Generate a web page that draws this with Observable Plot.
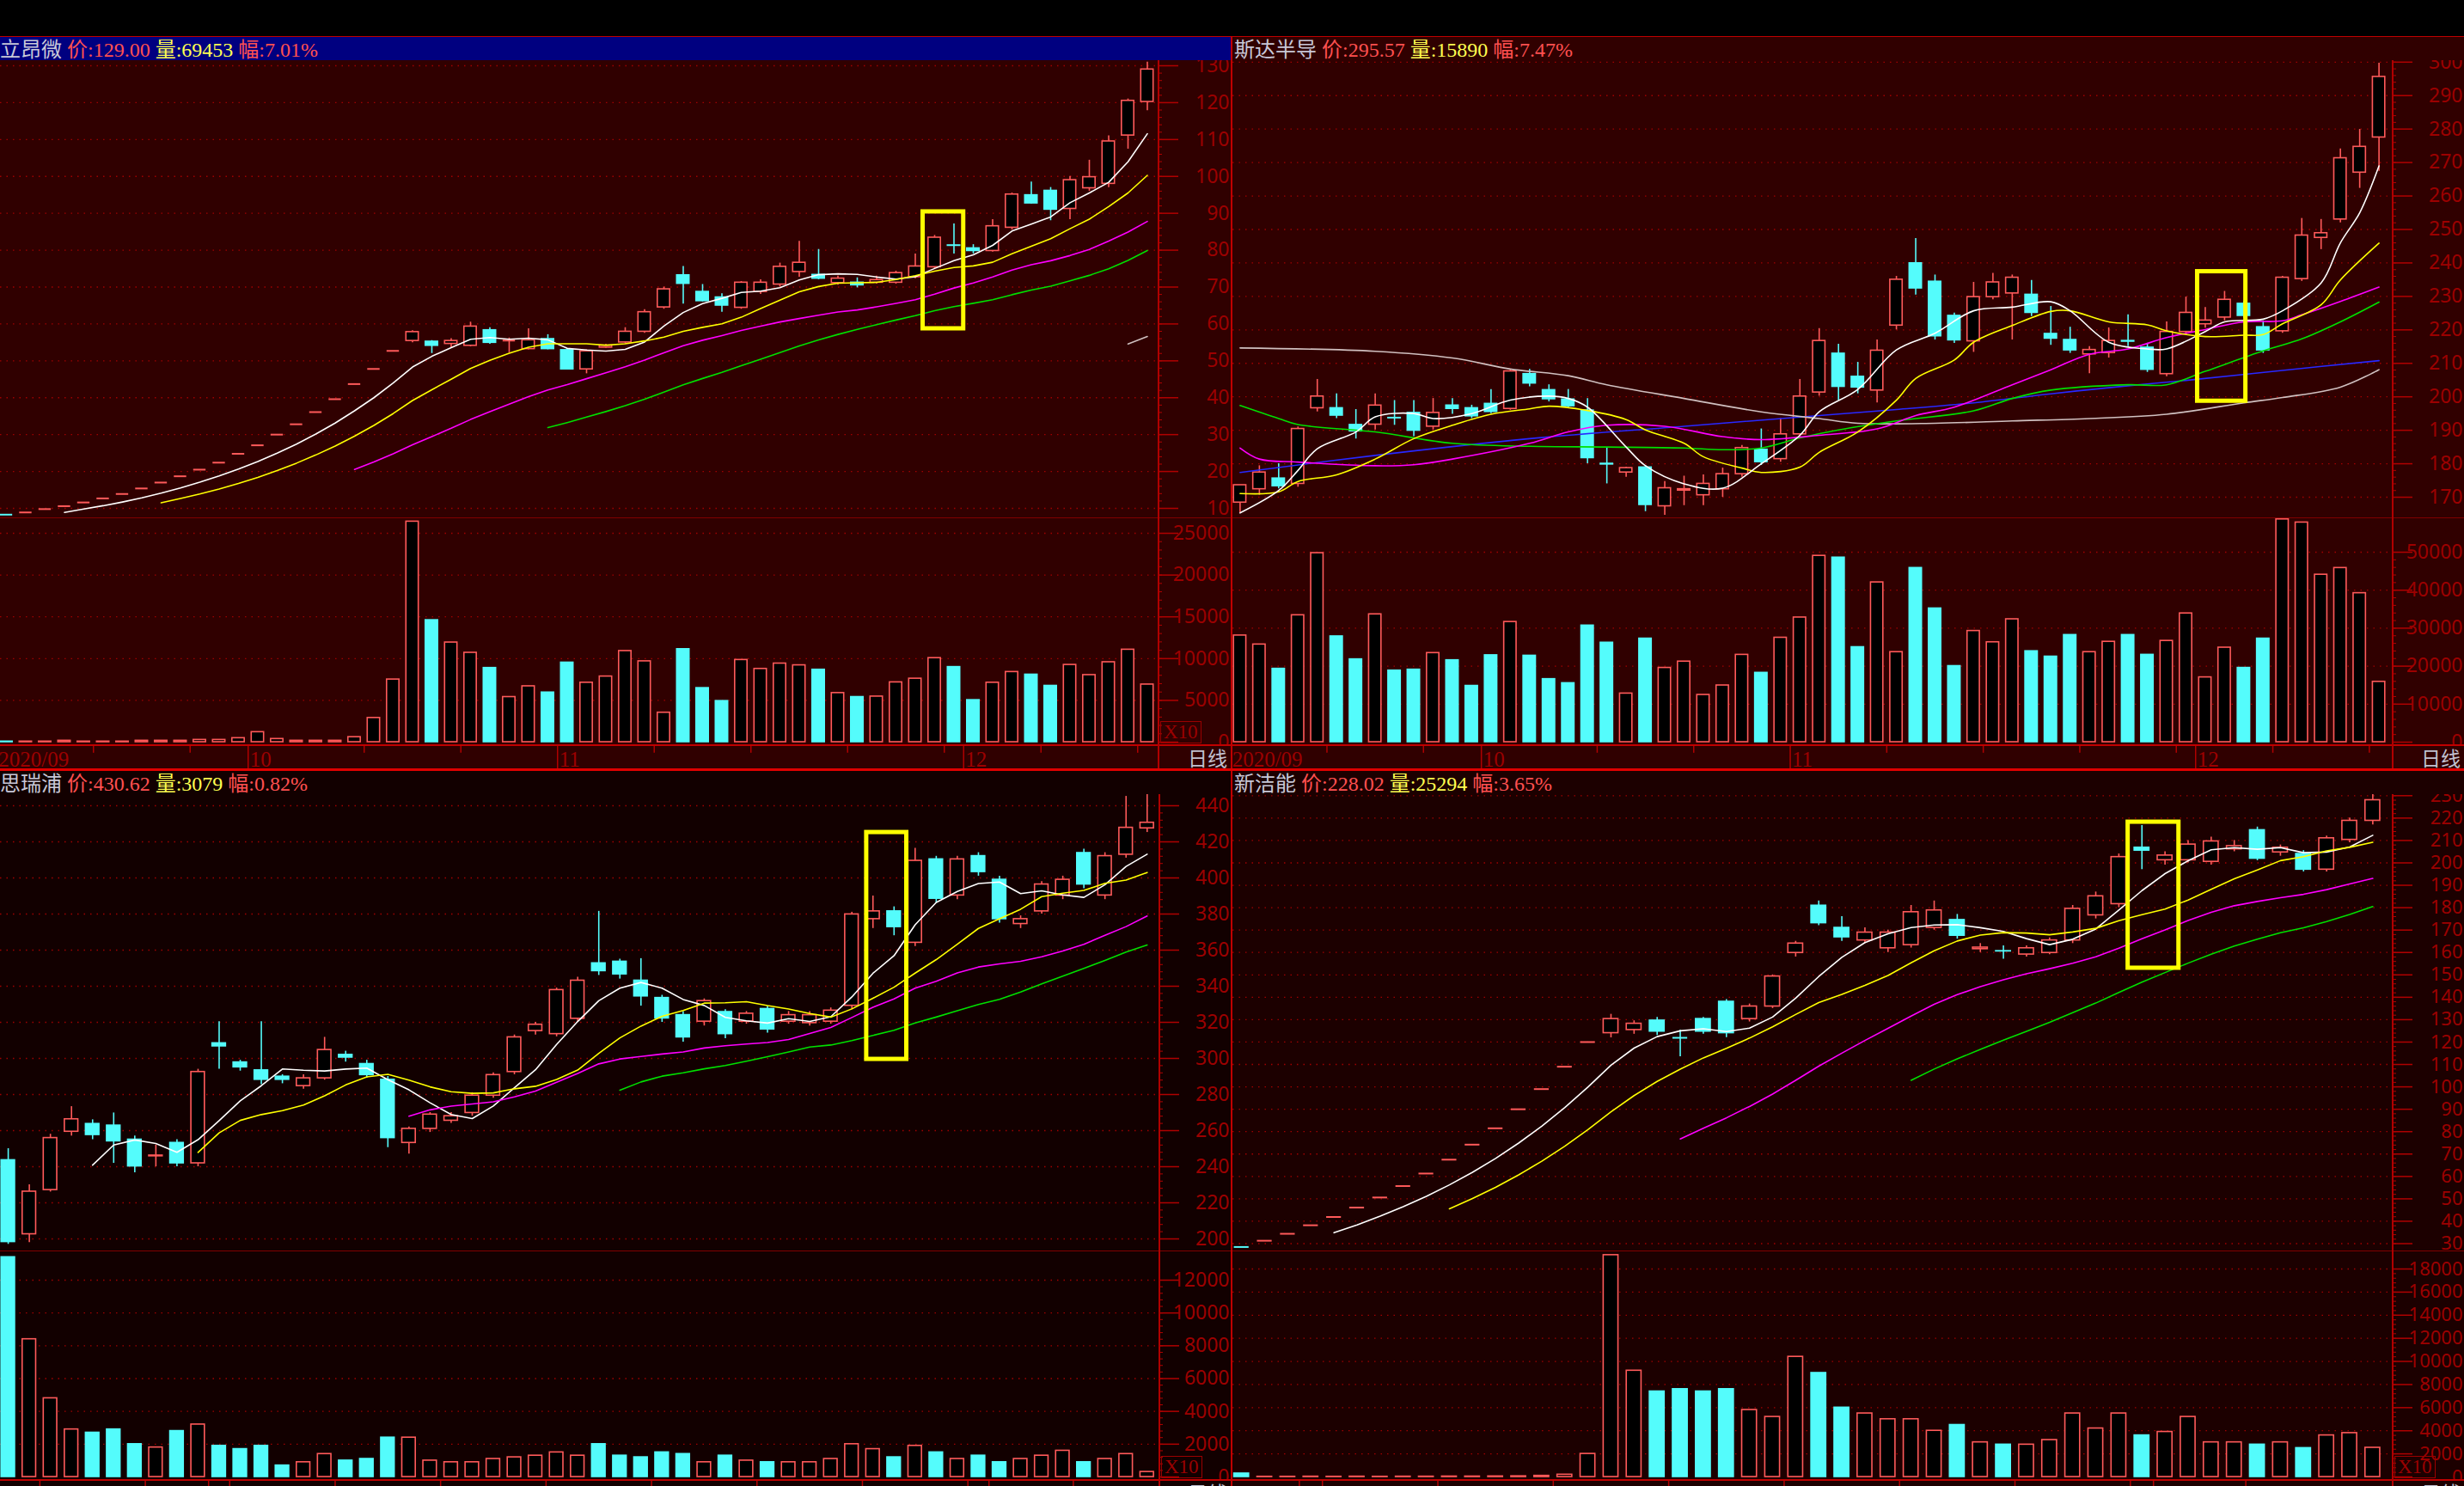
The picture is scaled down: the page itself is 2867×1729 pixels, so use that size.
<!DOCTYPE html>
<html lang="zh-CN">
<head>
<meta charset="utf-8">
<title>K线</title>
<script src="https://cdn.jsdelivr.net/npm/d3@7"></script>
<script src="https://cdn.jsdelivr.net/npm/@observablehq/plot@0.6"></script>
<style>
  html, body { margin: 0; padding: 0; background: #000; }
  #root { position: relative; width: 2867px; height: 1729px; overflow: hidden; background: #000; }
  .panel { position: absolute; overflow: hidden; }
  .title { height: 28px; line-height: 28px; font-size: 24px; font-family: "Liberation Serif", "Noto Sans CJK SC", serif; white-space: nowrap; box-sizing: border-box; }
  .nm { color: #c8c8d8; font-family: "Noto Sans CJK SC", sans-serif; }
  .rd { color: #ff5050; }
  .yl { color: #ffff50; }
  .x10 { border: 1px solid #9a0000; color: #9a0000; font: 23px "Liberation Serif", serif; line-height: 24px; padding: 0 3px; }
  .rixian { color: #c0c0d0; font: 23px "Noto Sans CJK SC", sans-serif; line-height: 26px; }
  svg { display: block; }
</style>
</head>
<body>
<div id="root"></div>
<script>
// ---------------- DATA ----------------
// 立昂微 (top-left)
const tlTitle = ["立昂微", "129.00", "69453", "7.01%"];
const tlPrevClose = [6.9];   // the listing day just left of the window (only felt through the moving averages)
const tlOpen  = [8.3, 8.9, 9.8, 10.6, 11.6, 12.7, 13.9, 15.4, 17.0, 18.7, 20.5, 22.4, 24.8, 27.1, 30.0, 32.8, 36.1, 39.6, 43.7, 47.8, 52.7,
  55.4, 55.2, 54.6, 54.1, 58.3, 55.5, 53.2, 55.9, 52.9, 47.7,
  53.6, 55.0, 57.9, 64.5, 73.2, 68.7, 67.2, 64.4, 68.7, 70.7,
  74.1, 73.3, 71.1, 71.2, 71.2, 71.2, 72.7, 75.4, 81.3, 80.5,
  79.8, 86.1, 94.9, 96.1, 91.2, 96.8, 98.0, 111.1, 120.2];
const tlHigh  = [8.3, 8.9, 9.8, 10.6, 11.6, 12.7, 13.9, 15.4, 17.0, 18.7, 20.5, 22.4, 24.8, 27.1, 30.0, 32.8, 36.1, 39.6, 43.7, 47.8, 52.7,
  58.2, 55.5, 56.0, 60.5, 59.0, 56.2, 58.7, 57.1, 53.3, 53.0,
  54.5, 59.0, 63.9, 70.0, 75.6, 70.7, 68.2, 71.5, 72.0, 76.5,
  82.4, 80.2, 73.0, 72.5, 73.0, 74.3, 79.0, 84.0, 87.1, 81.5,
  88.3, 95.5, 98.5, 97.0, 100.0, 104.4, 111.0, 121.0, 131.0];
const tlLow   = [8.3, 8.9, 9.8, 10.6, 11.6, 12.7, 13.9, 15.4, 17.0, 18.7, 20.5, 22.4, 24.8, 27.1, 30.0, 32.8, 36.1, 39.6, 43.7, 47.8, 52.7,
  54.9, 52.0, 53.5, 53.8, 54.5, 52.2, 53.0, 53.0, 47.5, 46.5,
  53.4, 54.6, 57.5, 64.0, 65.4, 66.0, 63.2, 64.0, 68.0, 70.0,
  72.7, 72.0, 70.5, 69.8, 70.8, 70.8, 72.3, 75.0, 79.0, 79.0,
  79.5, 85.5, 92.5, 88.0, 88.3, 96.0, 97.0, 107.4, 117.8];
const tlClose = [8.3, 8.9, 9.8, 10.6, 11.6, 12.7, 13.9, 15.4, 17.0, 18.7, 20.5, 22.4, 24.8, 27.1, 30.0, 32.8, 36.1, 39.6, 43.7, 47.8, 52.7,
  57.8, 54.1, 55.4, 59.3, 54.9, 55.5, 55.6, 53.2, 47.7, 52.6,
  54.1, 57.9, 63.2, 69.4, 70.9, 66.2, 65.0, 71.2, 71.2, 75.5,
  76.6, 72.3, 72.3, 70.5, 71.9, 73.8, 75.6, 83.4, 81.2, 79.8,
  86.5, 95.1, 92.7, 91.0, 99.0, 99.8, 109.5, 120.5, 129.0];
const tlVol   = [70, 70, 70, 170, 70, 70, 70, 170, 170, 170, 270, 270, 480, 1200, 380, 170, 170, 170, 600, 2900, 7500,
  26400, 14600, 11930, 10700, 8880, 5400, 6690, 5940, 9520, 7120,
  7860, 10910, 9680, 3530, 11130, 6470, 4920, 9840, 8770, 9410,
  9200, 8670, 5880, 5400, 5460, 7160, 7600, 10060, 8990, 5030,
  7120, 8400, 8080, 6740, 9250, 8030, 9570, 11070, 6900];
const tlPriceTicks = [10, 20, 30, 40, 50, 60, 70, 80, 90, 100, 110, 120, 130];
const tlVolTicks = [0, 5000, 10000, 15000, 20000, 25000];
const tlMark = [47.4, 49.5, 58.7, 90.4];

// 斯达半导 (top-right)
const trTitle = ["斯达半导", "295.57", "15890", "7.47%"];
const trOpen  = [168.4, 172.4, 175.6, 174.0, 196.6, 196.6, 191.6, 191.7, 193.7, 195.2,
  191.1, 197.4, 196.6, 197.9, 196.4, 206.8, 202.0, 199.2, 195.9, 180.0,
  177.4, 178.9, 167.3, 172.0, 170.6, 172.4, 176.9, 184.2, 181.4, 188.8,
  201.3, 212.9, 206.0, 201.9, 221.3, 239.9, 234.4, 224.2, 216.6, 229.8,
  230.9, 230.5, 218.8, 217.0, 212.7, 213.1, 216.7, 214.7, 206.8, 219.4,
  221.7, 223.7, 227.8, 220.8, 219.6, 235.2, 247.5, 253.0, 267.0, 277.5];
const trHigh  = [173.6, 179.4, 180.0, 191.0, 205.2, 200.9, 196.2, 200.9, 198.9, 198.9,
  199.5, 199.5, 197.5, 202.2, 208.0, 208.2, 203.6, 202.2, 199.5, 184.7,
  179.0, 179.5, 174.7, 176.3, 176.7, 178.7, 185.5, 190.4, 193.5, 205.2,
  220.4, 215.7, 210.3, 217.0, 236.0, 247.3, 236.4, 225.0, 234.2, 236.9,
  236.4, 234.8, 227.0, 220.8, 215.0, 220.6, 224.5, 216.0, 222.4, 229.8,
  226.7, 231.5, 228.5, 222.7, 236.0, 253.3, 253.0, 274.1, 279.9, 299.7];
const trLow   = [165.3, 170.6, 172.5, 173.0, 195.5, 193.5, 187.4, 190.1, 191.5, 188.1,
  190.1, 194.8, 193.5, 195.0, 196.0, 203.0, 198.5, 196.5, 180.0, 174.0,
  176.0, 165.7, 164.6, 167.5, 167.5, 170.0, 176.0, 179.5, 180.5, 188.0,
  200.2, 198.9, 200.9, 198.2, 220.0, 230.4, 217.0, 216.0, 213.3, 229.0,
  217.0, 224.0, 215.4, 213.0, 206.9, 211.6, 215.0, 207.3, 206.0, 218.5,
  220.5, 222.7, 223.5, 213.0, 219.0, 234.5, 244.0, 252.0, 262.3, 267.4];
const trClose = [173.6, 177.4, 173.3, 190.4, 200.1, 194.4, 189.7, 197.4, 193.6, 189.9,
  195.2, 196.4, 194.2, 195.5, 207.6, 204.0, 199.3, 197.2, 181.7, 179.8,
  178.7, 167.7, 172.7, 172.4, 174.0, 176.9, 184.7, 180.5, 188.8, 200.1,
  216.7, 203.0, 202.8, 213.8, 235.0, 232.4, 218.1, 216.9, 229.8, 234.2,
  235.6, 225.1, 217.4, 213.9, 214.0, 216.7, 216.5, 208.1, 219.4, 225.1,
  222.8, 229.0, 224.2, 213.9, 235.6, 248.2, 248.9, 271.3, 274.7, 295.6];
const trVol   = [28080, 25710, 19310, 33410, 49760, 27840, 21800, 33650, 18840, 19080,
  23460, 21560, 14810, 22870, 31640, 22750, 16590, 15520, 30690, 26180,
  12800, 27250, 19550, 21210, 12440, 14930, 22990, 18250, 27490, 32820,
  49050, 48580, 25000, 42060, 23700, 45850, 35190, 20020, 29270, 26300,
  32350, 23930, 22510, 28200, 23700, 26420, 28200, 22990, 26660, 33890,
  17060, 24880, 19550, 27250, 58650, 57820, 44080, 45850, 39220, 15890];
// moving averages: [candle index, value]
const trMA5 = [[0,165.3],[2,172],[3,178],[4,184.5],[6,189.5],[7,194],[9,195],[10,193.5],[12,195],[14,199],[16,200.2],[17,199.5],[18,196.9],[20,185],[21,179.4],[23,174],[25,172.7],[27,180],[29,188.5],[30,195.5],[32,202.2],[34,214],[36,219],[38,225.7],[40,226.8],[42,228.4],[43,225.7],[45,216.3],[47,214.3],[48,214.3],[50,219.5],[51,222.4],[53,223.2],[54,225.7],[56,234],[57,246],[58,255],[59,269]];
const trMA10 = [[0,171.1],[2,171.6],[3,174.7],[5,176.7],[7,181.4],[9,187.5],[11,191.5],[13,194.8],[15,196.4],[16,197.2],[18,195.9],[20,193.2],[21,190.1],[23,186.1],[24,182.1],[26,178.7],[27,177.4],[29,179],[30,183.4],[32,189.5],[34,199],[35,205.5],[37,211],[38,216.3],[40,221.3],[42,225.5],[43,225.7],[45,222.4],[47,221.5],[48,219.7],[50,218],[52,218.4],[53,218.6],[54,221.8],[56,227.5],[57,234.9],[59,245.9]];
const trMA20 = [[0,184.7],[1,181.4],[3,180.5],[7,179.4],[9,179.7],[11,181.4],[15,186.1],[17,189.5],[19,191.5],[22,191.2],[25,188.1],[27,187.2],[30,188.5],[33,190.4],[35,194.4],[37,196.9],[40,203.6],[42,208.1],[44,212.7],[46,214.3],[48,217.7],[50,220.1],[52,222.4],[54,222.7],[55,224.5],[57,228.5],[59,232.8]];
const trMA30 = [[0,197.4],[2,193.5],[3,191.7],[7,189.5],[11,186.1],[15,185.2],[19,185],[23,184.7],[25,184.2],[27,184.7],[29,187.7],[31,190.1],[34,192.8],[38,195.8],[40,199.5],[42,202],[46,203.6],[48,203.6],[50,207.6],[53,213.7],[55,217.3],[57,222.4],[59,228.3]];
const trMA60 = [[0,214.6],[7,213.6],[11,211.6],[14,208.3],[17,206.3],[19,203.6],[23,199.5],[27,195.5],[30,193.5],[32,192.1],[36,192.1],[40,192.8],[44,193.5],[48,194.8],[52,198.2],[54,199.8],[57,202.9],[59,208.1]];
const trMA120 = [[0,177.4],[7,182.5],[15,187.5],[23,191.2],[30,194.4],[34,196.2],[38,198.2],[42,200.9],[46,203.3],[49,204.9],[54,207.9],[59,210.8]];
const trPriceTicks = [170, 180, 190, 200, 210, 220, 230, 240, 250, 260, 270, 280, 290, 300];
const trVolTicks = [0, 10000, 20000, 30000, 40000, 50000];
const trMark = [49.6, 52.1, 198.7, 237.4];

// 思瑞浦 (bottom-left)
const blTitle = ["思瑞浦", "430.62", "3079", "0.82%"];
const blOpen  = [243.6, 202.6, 227.1, 259.4, 263.7, 262.8, 255.0, 245.8, 253.2, 241.9,
  308.4, 297.8, 293.4, 289.9, 284.7, 289.0, 302.0, 296.9, 288.2, 253.2,
  261.0, 265.5, 269.8, 279.4, 292.5, 315.2, 313.5, 322.0, 352.7, 353.6,
  343.1, 333.5, 324.0, 320.4, 325.7, 320.4, 327.4, 320.4, 319.6, 320.4,
  329.2, 377.2, 381.5, 364.1, 410.3, 390.3, 412.1, 399.0, 374.5, 381.5,
  390.3, 413.8, 390.3, 412.9, 427.5];
const blHigh  = [250, 230, 258, 273.3, 266, 269.8, 257, 252, 255, 294,
  320.4, 299, 320.4, 291, 291, 311.7, 304, 299, 290, 262,
  270, 270, 281, 292, 313, 320, 339, 345, 381.5, 355,
  355.3, 335, 326, 333, 327, 326, 329, 326, 326, 328,
  381, 390, 384, 416.4, 412, 412, 414, 401, 379, 398,
  401, 416, 414, 445.2, 447];
const blLow   = [197, 198, 226, 257, 255, 241.9, 236.7, 240, 240, 240,
  294, 293, 285.5, 286, 283, 288, 298, 289, 250.6, 247,
  259, 264, 268, 278, 291, 313, 312, 320, 346, 344,
  329, 320, 309, 318, 311, 319, 314, 319, 318, 319,
  327, 372, 368, 362, 386, 388, 401, 375, 372, 380,
  388, 394, 388, 411, 425.2];
const blClose = [198.3, 226.2, 255.9, 266.3, 257.6, 254.1, 240.2, 246.2, 241.9, 292.5,
  306.7, 295.1, 288.2, 288.2, 289.0, 304.7, 300.5, 290.8, 255.9, 261.0,
  268.9, 268.0, 279.4, 290.8, 311.7, 318.7, 337.9, 343.1, 348.4, 346.6,
  334.4, 322.2, 311.7, 331.8, 313.5, 324.8, 316.1, 324.0, 324.0, 326.5,
  379.8, 381.5, 372.8, 409.5, 388.5, 410.3, 403.3, 377.2, 377.2, 396.4,
  399.0, 396.4, 412.1, 427.8, 430.6];
const blVol   = [13400, 8400, 4800, 2900, 2700, 2900, 2000, 1800, 2800, 3200,
  1900, 1700, 1900, 700, 900, 1400, 1000, 1100, 2400, 2400,
  1000, 900, 900, 1100, 1200, 1300, 1500, 1300, 2000, 1300,
  1200, 1500, 1400, 900, 1300, 1000, 900, 900, 900, 1100,
  2000, 1700, 1200, 1900, 1500, 1100, 1300, 900, 1100, 1300,
  1600, 900, 1100, 1400, 308];
const blPriceTicks = [200, 220, 240, 260, 280, 300, 320, 340, 360, 380, 400, 420, 440];
const blVolTicks = [0, 2000, 4000, 6000, 8000, 10000, 12000];
const blMark = [40.7, 42.6, 299.5, 425.2];

// 新洁能 (bottom-right)
const brTitle = ["新洁能", "228.02", "25294", "3.65%"];
const brOpen  = [28.5, 31.3, 34.4, 38.2, 41.9, 46.1, 50.6, 55.7, 61.3, 67.5, 74.2, 81.5, 90.0, 99.0, 109.0, 120.0,
  124.0, 125.4, 129.6, 121.9, 130.3, 138.0, 130.3, 135.9, 159.8, 180.9,
  171.0, 165.4, 161.9, 163.3, 171.0, 174.5, 161.5, 160.6, 159.1, 159.8,
  165.4, 176.6, 181.6, 206.8, 201.2, 201.2, 200.5, 206.1, 214.6, 204.7,
  204.0, 197.0, 210.3, 218.8];
const brHigh  = [28.5, 31.3, 34.4, 38.2, 41.9, 46.1, 50.6, 55.7, 61.3, 67.5, 74.2, 81.5, 90.0, 99.0, 109.0, 120.0,
  132.4, 129.5, 131.0, 125.4, 131.0, 139.0, 137.0, 150.0, 165.0, 183.0,
  176.0, 171.0, 170.0, 181.0, 183.0, 177.0, 164.0, 163.0, 163.0, 166.5,
  181.0, 187.0, 204.0, 216.7, 205.0, 210.0, 211.5, 210.0, 216.0, 208.0,
  205.5, 212.0, 220.0, 231.0];
const brLow   = [28.5, 31.3, 34.4, 38.2, 41.9, 46.1, 50.6, 55.7, 61.3, 67.5, 74.2, 81.5, 90.0, 99.0, 109.0, 120.0,
  121.9, 123.5, 123.0, 113.5, 123.5, 122.0, 129.0, 135.0, 158.0, 172.0,
  165.0, 164.0, 160.0, 162.0, 170.0, 166.0, 160.0, 157.0, 158.0, 159.0,
  164.0, 175.0, 180.0, 197.0, 199.0, 200.0, 199.0, 205.0, 201.0, 203.0,
  196.0, 196.0, 209.0, 217.0];
const brClose = [28.5, 31.3, 34.4, 38.2, 41.9, 46.1, 50.6, 55.7, 61.3, 67.5, 74.2, 81.5, 90.0, 99.0, 109.0, 120.0,
  130.3, 128.2, 124.7, 121.9, 124.7, 124.0, 135.9, 149.3, 164.0, 173.1,
  166.8, 168.9, 168.9, 178.0, 178.8, 167.5, 162.2, 160.5, 161.9, 165.4,
  179.5, 185.1, 202.6, 205.5, 203.3, 208.2, 209.6, 207.5, 201.9, 206.8,
  197.0, 211.0, 218.8, 228.0];
const brVol   = [300, 20, 20, 30, 20, 30, 20, 30, 30, 40, 40, 50, 60, 100, 200, 2000,
  19200, 9200, 7400, 7600, 7400, 7600, 5800, 5200, 10400, 9000,
  6000, 5500, 5000, 5000, 4000, 4500, 3000, 2800, 2800, 3200,
  5500, 4200, 5500, 3600, 3900, 5200, 3000, 3000, 2800, 3000,
  2500, 3600, 3800, 2529];
const brPriceTicks = [30, 40, 50, 60, 70, 80, 90, 100, 110, 120, 130, 140, 150, 160, 170, 180, 190, 200, 210, 220, 230];
const brVolTicks = [0, 2000, 4000, 6000, 8000, 10000, 12000, 14000, 16000, 18000];
const brMark = [38.4, 40.6, 153, 218.2];

// date axis: month labels, first candle index of each month, week starts
const monthLabels = ["2020/09", "10", "11", "12"];
const topMonthStarts = [0, 13, 29, 50];
const topWeekStarts = [5, 10, 19, 24, 34, 39, 44, 49, 54, 59];
const blMonthStarts = [0, 10, 26, 47];
const blWeekStarts = [2, 7, 11, 16, 21, 31, 36, 41, 46, 51];
const brMonthStarts = [0, 3, 19, 40];
const brWeekStarts = [4, 9, 14, 24, 29, 34, 39, 44];

// ---------------- DRAWING ----------------
const C = {up: "#ff5a5a", dn: "#54fcfc", axis: "#b00000", label: "#9c0000", grid: "#a00000", line: "#c00000"};
const FONT = '"Liberation Serif", "DejaVu Serif", serif';
const root = document.getElementById("root");

function div(parent, css, cls) {
  const d = document.createElement("div");
  if (cls) d.className = cls;
  d.style.cssText = "position:absolute;" + css;
  parent.appendChild(d);
  return d;
}

function buildPanel(p) {
  const panel = div(root, `left:${p.left}px;top:${p.top}px;width:${p.width}px;height:${p.height}px;background:${p.bg};`, "panel");
  const axisW = p.width - p.plotW;
  const t = div(panel, `left:0;top:0;width:${p.width}px;padding-left:${p.padL}px;background:${p.titleBg || "transparent"};`, "title");
  t.innerHTML = `<span class="nm">${p.title[0]}</span> <span class="rd">价:${p.title[1]}</span> <span class="yl">量:${p.title[2]}</span> <span class="rd">幅:${p.title[3]}</span>`;

  const rows = p.C.map((c, i) => ({
    i, o: p.O[i], h: p.H[i], l: p.L[i], c, v: p.V[i],
    up: c > p.O[i] || (c === p.O[i] && i > 0 && c >= p.C[i - 1])
  }));
  const pre = (p.pre || []).map((c, k, a) => ({i: k - a.length, c}));
  const maRows = pre.concat(rows);
  const hw = 0.32;
  const fs = p.labelSize || 23;
  const strokeOf = d => d.up ? C.up : C.dn;
  const fillOf = d => d.up ? "#000000" : C.dn;
  const style = {background: "transparent", fontFamily: FONT, fontSize: `${fs}px`, overflow: "visible"};
  const fmt = d => `${d}`;

  const priceTop = 28, volTop = 28 + p.priceH, dateTop = volTop + p.volH;
  const pMin = p.priceTicks[0], pMax = p.priceTicks[p.priceTicks.length - 1];
  const minorP = d3.range(pMin, pMax + 0.001, p.minorP);
  const vMax = p.volTicks[p.volTicks.length - 1];
  const minorV = d3.range(0, vMax + 0.001, p.minorV);

  let maMarks;
  if (p.ma) {
    maMarks = p.ma.map(([pts, color]) => Plot.line(pts, {x: d => d[0], y: d => d[1], stroke: color, strokeWidth: 1.6, curve: "catmull-rom"}));
  } else {
    maMarks = p.maK.map(([k, color]) =>
      Plot.lineY(maRows, Plot.windowY({k, anchor: "end", strict: true}, {x: "i", y: "c", stroke: color, strokeWidth: 1.6})));
  }

  const price = Plot.plot({
    width: p.width, height: p.priceH,
    marginLeft: 0, marginRight: axisW, marginTop: 0, marginBottom: 0,
    x: {domain: p.xDomain, axis: null},
    y: {domain: p.priceDomain},
    color: {type: "identity"},
    style,
    marks: [
      Plot.ruleY(p.priceTicks, {stroke: C.grid, strokeDasharray: "1.5,6", strokeWidth: 1.3}),
      Plot.ruleX(rows.filter(d => d.h > d.l), {x: "i", y1: "l", y2: "h", stroke: strokeOf, strokeWidth: 1.6}),
      Plot.rect(rows.filter(d => d.o !== d.c), {x1: d => d.i - hw, x2: d => d.i + hw, y1: "o", y2: "c", fill: fillOf, stroke: strokeOf, strokeWidth: 1.6}),
      Plot.ruleY(rows.filter(d => d.o === d.c), {y: "c", x1: d => d.i - hw, x2: d => d.i + hw, stroke: strokeOf, strokeWidth: 2}),
      ...maMarks,
      Plot.rect([p.mark], {x1: d => d[0], x2: d => d[1], y1: d => d[2], y2: d => d[3], fill: "none", stroke: "#ffff00", strokeWidth: 5}),
      Plot.axisY({ticks: minorP, anchor: "right", tickSize: 3, fill: "none", label: null, stroke: C.axis}),
      Plot.axisY({ticks: p.priceTicks, anchor: "right", label: null, tickSize: 22, tickPadding: axisW - 24, textAnchor: "end", tickFormat: fmt, stroke: C.axis, fill: C.label, strokeWidth: 1.5, fontSize: fs})
    ]
  });
  price.style.cssText = `position:absolute;left:0;top:${priceTop}px;`;
  panel.appendChild(price);

  const vol = Plot.plot({
    width: p.width, height: p.volH,
    marginLeft: 0, marginRight: axisW, marginTop: 0, marginBottom: 3,
    x: {domain: p.xDomain, axis: null},
    y: {domain: p.volDomain},
    color: {type: "identity"},
    style,
    marks: [
      Plot.ruleY(p.volTicks.filter(v => v > 0), {stroke: C.grid, strokeDasharray: "1.5,6", strokeWidth: 1.3}),
      Plot.rect(rows, {x1: d => d.i - hw, x2: d => d.i + hw, y1: 0, y2: "v", fill: fillOf, stroke: strokeOf, strokeWidth: 1.6}),
      Plot.axisY({ticks: minorV, anchor: "right", tickSize: 3, fill: "none", label: null, stroke: C.axis}),
      Plot.axisY({ticks: p.volTicks, anchor: "right", label: null, tickSize: 22, tickPadding: axisW - 24, textAnchor: "end", tickFormat: fmt, stroke: C.axis, fill: C.label, strokeWidth: 1.5, fontSize: fs})
    ]
  });
  vol.style.cssText = `position:absolute;left:0;top:${volTop}px;`;
  panel.appendChild(vol);

  // separator between price and volume
  div(panel, `left:0;top:${volTop}px;width:${p.width}px;height:1px;background:#800000;`);

  // date row
  const dateBox = div(panel, `left:0;top:${dateTop}px;width:${p.width}px;height:30px;background:${p.bg};border-top:2px solid ${C.line};box-sizing:border-box;`);
  const months = p.monthStarts.map((s, k) => ({s, label: monthLabels[k]}));
  const dates = Plot.plot({
    width: p.width, height: 28,
    marginLeft: 0, marginRight: axisW, marginTop: 0, marginBottom: 0,
    x: {domain: p.xDomain, axis: null},
    y: {domain: [0, 1], axis: null},
    style: {background: "transparent", fontFamily: FONT, fontSize: "25px", overflow: "visible"},
    marks: [
      Plot.ruleX(months, {x: d => d.s - 0.5, stroke: C.axis, strokeWidth: 1.5}),
      Plot.ruleX(p.weekStarts, {x: d => d - 0.5, y1: 1, y2: 0.72, stroke: C.axis, strokeWidth: 1.5}),
      Plot.text(months, {x: d => d.s - 0.5, y: 0.45, text: "label", textAnchor: "start", dx: 2, fill: C.label, fontSize: 25, fontFamily: FONT})
    ]
  });
  dates.style.cssText = "position:absolute;left:0;top:0;";
  dateBox.appendChild(dates);
  const rx = div(dateBox, `right:4px;top:0;`, "rixian");
  rx.textContent = "日线";

  // vertical axis line
  div(panel, `left:${p.plotW - 1}px;top:28px;width:2px;height:${p.height - 28}px;background:${C.axis};`);

  if (p.x10) {
    const x = div(panel, `left:${p.plotW + 2}px;top:${dateTop - 27}px;`, "x10");
    x.textContent = "X10";
  }
}

const MA4 = [[5, "#ffffff"], [10, "#ffff00"], [20, "#ff00ff"], [30, "#00e000"]];

buildPanel({
  left: 0, top: 42, width: 1432, height: 854, plotW: 1348, padL: 0,
  bg: "#300000", titleBg: "#000080", title: tlTitle,
  O: tlOpen, H: tlHigh, L: tlLow, C: tlClose, V: tlVol, pre: tlPrevClose,
  priceH: 532, volH: 264,
  xDomain: [-0.31, 59.6], priceDomain: [7.437, 131.40], priceTicks: tlPriceTicks, minorP: 2,
  volDomain: [0, 26852], volTicks: tlVolTicks, minorV: 1000,
  maK: [...MA4, [60, "#d0c0c0"]],
  mark: tlMark, monthStarts: topMonthStarts, weekStarts: topWeekStarts, x10: true
});
buildPanel({
  left: 1434, top: 42, width: 1433, height: 854, plotW: 1350, padL: 2,
  bg: "#300000", title: trTitle,
  O: trOpen, H: trHigh, L: trLow, C: trClose, V: trVol,
  priceH: 532, volH: 264,
  xDomain: [-0.374, 59.73], priceDomain: [163.84, 300.46], priceTicks: trPriceTicks, minorP: 2,
  volDomain: [0, 59050], volTicks: trVolTicks, minorV: 2000,
  ma: [[trMA120, "#2828ff"], [trMA60, "#d0c0c0"], [trMA30, "#00e000"], [trMA20, "#ff00ff"], [trMA10, "#ffff00"], [trMA5, "#ffffff"]],
  mark: trMark, monthStarts: topMonthStarts, weekStarts: topWeekStarts, x10: false
});
buildPanel({
  left: 0, top: 896, width: 1432, height: 833, plotW: 1349, padL: 0,
  bg: "#120000", title: blTitle,
  O: blOpen, H: blHigh, L: blLow, C: blClose, V: blVol,
  priceH: 531, volH: 266,
  xDomain: [-0.37, 54.6], priceDomain: [193.33, 446.19], priceTicks: blPriceTicks, minorP: 4,
  volDomain: [0, 13782], volTicks: blVolTicks, minorV: 400,
  maK: MA4,
  mark: blMark, monthStarts: blMonthStarts, weekStarts: blWeekStarts, x10: true
});
buildPanel({
  left: 1434, top: 896, width: 1433, height: 833, plotW: 1350, padL: 2,
  bg: "#1c0000", title: brTitle,
  O: brOpen, H: brHigh, L: brLow, C: brClose, V: brVol,
  priceH: 531, volH: 266, labelSize: 22,
  xDomain: [-0.38, 49.88], priceDomain: [26.74, 230.5], priceTicks: brPriceTicks, minorP: 2,
  volDomain: [0, 19562], volTicks: brVolTicks, minorV: 400,
  maK: MA4,
  mark: brMark, monthStarts: brMonthStarts, weekStarts: brWeekStarts, x10: true
});

// panel frame lines
div(root, "left:0;top:42px;width:2867px;height:1px;background:#c00000;");
div(root, "left:1432px;top:42px;width:2px;height:1687px;background:#c00000;");
div(root, "left:0;top:894px;width:2867px;height:3px;background:#e00000;");
</script>
</body>
</html>
